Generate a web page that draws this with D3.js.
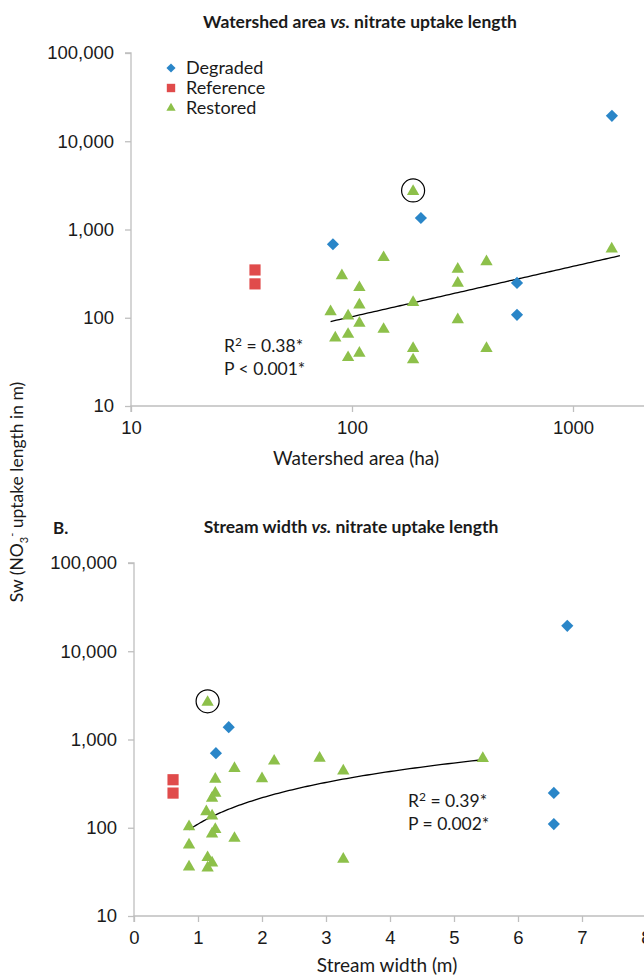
<!DOCTYPE html>
<html>
<head>
<meta charset="utf-8">
<script src="https://cdn.jsdelivr.net/npm/d3@7"></script>
<style>
  body { margin: 0; background: #fff; }
  svg { display: block; font-family: Lato, "Open Sans", sans-serif; }
</style>
</head>
<body>
<svg id="chart" width="644" height="975"></svg>
<script>
// Panel A: watershed area (ha) vs Sw (m)
const degradedA = [[82, 680], [205, 1350], [558, 248], [558, 108], [1500, 19400]];
const referenceA = [[36.4, 348], [36.4, 242]];
const restoredA = [
  [189, 2700], [139, 481], [90, 300], [108, 220], [108, 140], [80, 117],
  [96, 105], [108, 87], [139, 74], [84, 59], [96, 65], [96, 35.4],
  [108, 39.7], [189, 149], [189, 45], [189, 33.4], [301, 355], [301, 247],
  [301, 95], [406, 433], [406, 45], [1497, 603]
];
const circledA = [189, 2700];
const fitA = { a: 7.45, b: 0.57, from: 80, to: 1630 };   // power trendline
const statsA = ['R² = 0.38*', 'P < 0.001*'];

// Panel B: stream width (m) vs Sw (m)
const degradedB = [[1.48, 1380], [1.28, 700], [6.77, 19400], [6.56, 248], [6.56, 110]];
const referenceB = [[0.61, 350], [0.61, 247]];
const restoredB = [
  [1.15, 2640], [1.57, 470], [2.19, 570], [2.0, 360], [1.27, 355], [1.27, 247],
  [1.22, 216], [1.13, 152], [1.22, 136], [0.86, 103], [1.27, 96], [1.22, 85],
  [1.57, 76], [0.86, 64], [1.15, 46], [1.22, 40], [0.86, 36], [1.15, 35],
  [2.9, 615], [3.27, 440], [5.45, 610], [3.27, 44]
];
const circledB = [1.15, 2640];
const fitB = { a: 110, b: 0.99, from: 0.86, to: 5.48 };
const statsB = ['R² = 0.39*', 'P = 0.002*'];

const yTicks = [10, 100, 1000, 10000, 100000];
const xTicksA = [10, 100, 1000];
const xTicksB = [0, 1, 2, 3, 4, 5, 6, 7, 8];
const legendItems = ['Degraded', 'Reference', 'Restored'];

const colors = { Degraded: '#2a86c8', Reference: '#e04b4b', Restored: '#8dc04a' };
const axisColor = '#bfbfbf';
const textColor = '#1a1a1a';

const svg = d3.select('#chart');

function symbolFor(type, scale = 1) {
  if (type === 'Degraded') return d3.symbol(d3.symbolSquare, 74 * scale * scale)();
  if (type === 'Reference') return d3.symbol(d3.symbolSquare, 125 * scale * scale)();
  return d3.symbol(d3.symbolTriangle, 66 * scale * scale)();
}

function drawPanel(cfg) {
  const g = svg.append('g');

  // y axis
  const yAxis = g.append('g')
    .attr('transform', `translate(${cfg.x.range()[0]},0)`)
    .call(d3.axisLeft(cfg.y).tickValues(yTicks).tickFormat(d3.format(',')).tickSize(6).tickPadding(11));
  // x axis
  const xAxis = g.append('g')
    .attr('transform', `translate(0,${cfg.y.range()[0]})`)
    .call(d3.axisBottom(cfg.x).tickValues(cfg.xTicks).tickFormat(cfg.xFormat).tickSize(6).tickPadding(9));

  [yAxis, xAxis].forEach(ax => {
    ax.selectAll('path').attr('stroke', axisColor).attr('stroke-width', 1.3);
    ax.selectAll('line').attr('stroke', axisColor).attr('stroke-width', 1.3);
    ax.selectAll('text').attr('fill', textColor).style('font-size', '18.5px');
  });
  yAxis.select('.domain').attr('d', `M-6,${cfg.y.range()[1]}H0V${cfg.y.range()[0]}`);
  xAxis.select('.domain').attr('d', `M${cfg.x.range()[0]},6V0H${cfg.x.range()[1]}`);

  // title
  g.append('text')
    .attr('x', cfg.titleX).attr('y', cfg.titleY)
    .attr('text-anchor', 'middle')
    .attr('font-weight', 'bold').attr('font-size', 17.5).attr('fill', textColor)
    .call(t => {
      t.append('tspan').text(cfg.title[0]);
      t.append('tspan').attr('font-style', 'italic').text('vs.');
      t.append('tspan').text(cfg.title[1]);
    });

  // x label
  g.append('text')
    .attr('x', cfg.xLabelX).attr('y', cfg.xLabelY)
    .attr('text-anchor', 'middle')
    .attr('font-size', 19).attr('fill', textColor)
    .text(cfg.xLabel);

  // trendline
  const fit = cfg.fit;
  const pts = d3.range(0, 101).map(i => {
    const xv = fit.from * Math.pow(fit.to / fit.from, i / 100);
    return [xv, fit.a * Math.pow(xv, fit.b)];
  });
  g.append('path')
    .attr('d', d3.line().x(d => cfg.x(d[0])).y(d => cfg.y(d[1]))(pts))
    .attr('fill', 'none').attr('stroke', '#000').attr('stroke-width', 1.3);

  // points
  const series = [
    ['Restored', cfg.restored],
    ['Reference', cfg.reference],
    ['Degraded', cfg.degraded]
  ];
  series.forEach(([name, data]) => {
    g.append('g').selectAll('path')
      .data(data)
      .join('path')
      .attr('d', symbolFor(name))
      .attr('transform', d => `translate(${cfg.x(d[0])},${cfg.y(d[1])})` + (name === 'Degraded' ? ' rotate(45)' : ''))
      .attr('fill', colors[name]);
  });

  // circled outlier
  g.append('circle')
    .attr('cx', cfg.x(cfg.circled[0])).attr('cy', cfg.y(cfg.circled[1]) - 1)
    .attr('r', 11.5)
    .attr('fill', 'none').attr('stroke', '#000').attr('stroke-width', 1.2);

  // stats
  cfg.stats.forEach((s, i) => {
    const t = g.append('text')
      .attr('x', cfg.statsX).attr('y', cfg.statsY + i * 23)
      .attr('font-size', 17.5).attr('fill', textColor);
    if (s.startsWith('R²')) {
      t.append('tspan').text('R');
      t.append('tspan').attr('font-size', 12).attr('dy', -6).text('2');
      t.append('tspan').attr('dy', 6).text(s.slice(2));
    } else {
      t.text(s);
    }
  });
  return g;
}

// Panel A scales
const xA = d3.scaleLog().domain([10, 1000]).range([131, 573]);
xA.domain([10, xA.invert(644)]).range([131, 644]);
const yA = d3.scaleLog().domain([10, 100000]).range([406, 53]);

drawPanel({
  x: xA, y: yA, xTicks: xTicksA, xFormat: d3.format('d'),
  title: ['Watershed area ', ' nitrate uptake length'], titleX: 360, titleY: 28,
  xLabel: 'Watershed area (ha)', xLabelX: 356, xLabelY: 465,
  degraded: degradedA, reference: referenceA, restored: restoredA,
  circled: circledA, fit: fitA, stats: statsA, statsX: 224, statsY: 352
});

// Panel B scales
const xB = d3.scaleLinear().domain([0, 8]).range([134, 646]);
const yB = d3.scaleLog().domain([10, 100000]).range([916, 563]);

drawPanel({
  x: xB, y: yB, xTicks: xTicksB, xFormat: d3.format('d'),
  title: ['Stream width ', ' nitrate uptake length'], titleX: 351, titleY: 533,
  xLabel: 'Stream width (m)', xLabelX: 387, xLabelY: 972,
  degraded: degradedB, reference: referenceB, restored: restoredB,
  circled: circledB, fit: fitB, stats: statsB, statsX: 408, statsY: 807
});

// panel label B.
svg.append('text')
  .attr('x', 53).attr('y', 534)
  .attr('font-weight', 'bold').attr('font-size', 17).attr('fill', textColor)
  .text('B.');

// shared y label
const yLab = svg.append('text')
  .attr('transform', 'translate(23,492) rotate(-90)')
  .attr('text-anchor', 'middle')
  .attr('font-size', 17.5).attr('fill', textColor);
yLab.append('tspan').text('Sw (NO');
yLab.append('tspan').attr('font-size', 11).attr('dy', 5).text('3');
yLab.append('tspan').attr('font-size', 11).attr('dy', -12).text('-');
yLab.append('tspan').attr('dy', 7).text(' uptake length in m)');

// legend
const legend = svg.append('g').attr('transform', 'translate(171,68)');
legendItems.forEach((name, i) => {
  const row = legend.append('g').attr('transform', `translate(0,${i * 20})`);
  row.append('path')
    .attr('d', symbolFor(name, 0.75))
    .attr('transform', name === 'Degraded' ? 'rotate(45)' : null)
    .attr('fill', colors[name]);
  row.append('text')
    .attr('x', 15).attr('y', 6)
    .attr('font-size', 18).attr('fill', textColor)
    .text(name);
});
</script>
</body>
</html>
